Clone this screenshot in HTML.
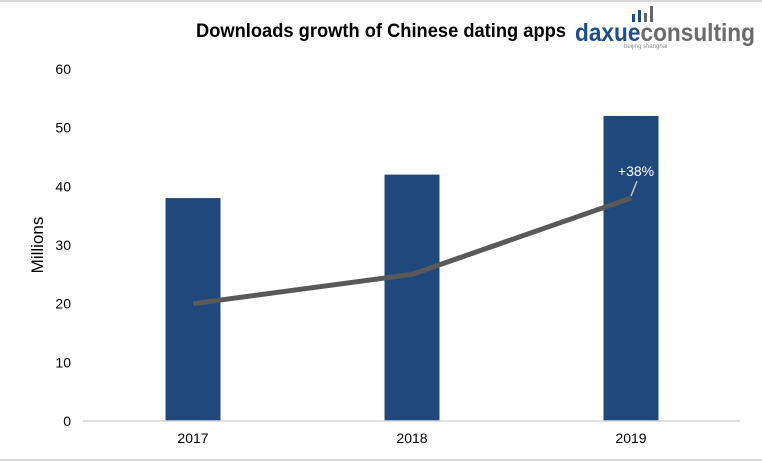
<!DOCTYPE html>
<html><head><meta charset="utf-8"><style>
body{margin:0;background:#fff;}
svg{display:block;font-family:"Liberation Sans",Arial,sans-serif;}
</style></head><body>
<svg width="762" height="462">
<line x1="0" y1="1" x2="762" y2="1" stroke="#d9d9d9" stroke-width="2"/>
<line x1="0" y1="460" x2="762" y2="460" stroke="#d9d9d9" stroke-width="2"/>
<text x="196" y="37" font-size="19" font-weight="bold" textLength="370" lengthAdjust="spacingAndGlyphs">Downloads growth of Chinese dating apps</text>
<g>
<rect x="632" y="14" width="3" height="8" fill="#1f4e8a"/><rect x="638" y="10" width="3" height="12" fill="#1f4e8a"/><rect x="644" y="13" width="3" height="9" fill="#666"/><rect x="650" y="6" width="3" height="16" fill="#666"/>
<text x="575" y="41" font-size="25" font-weight="bold" textLength="180" lengthAdjust="spacingAndGlyphs"><tspan fill="#1f4e8a">daxue</tspan><tspan fill="#6b6b6b">consulting</tspan></text>
<text x="624" y="48" font-size="6" fill="#888">beijing shanghai</text>
</g>
<text transform="translate(43,245) rotate(-90)" text-anchor="middle" font-size="17">Millions</text>
<g id="yticks"></g>
<g id="bars"></g>
<line x1="83" y1="421" x2="740" y2="421" stroke="#d9d9d9" stroke-width="1.5"/>
<g id="xticks"></g>
<g id="line"></g>
</svg>
<script>
const categories=["2017","2018","2019"];
const barValues=[38,42,52];
const lineValues=[20,25,38];
const yTicks=[0,10,20,30,40,50,60];
const annotation="+38%";
const ns="http://www.w3.org/2000/svg";
const y=v=>421-v*(352/60);
const x=i=>193+i*219;
function mk(tag,attrs,parent){const e=document.createElementNS(ns,tag);for(const k in attrs)e.setAttribute(k,attrs[k]);parent.appendChild(e);return e;}
const yt=document.getElementById('yticks');
yTicks.forEach(t=>{const e=mk('text',{x:71,y:y(t)+5,'text-anchor':'end','font-size':14},yt);e.textContent=t;

});
const bg=document.getElementById('bars');
barValues.forEach((v,i)=>{const r=mk('rect',{x:x(i)-27.5,y:y(v),width:55,height:421-y(v),fill:'#1f497d'},bg);

});
const xt=document.getElementById('xticks');
categories.forEach((c,i)=>{const e=mk('text',{x:x(i),y:443,'text-anchor':'middle','font-size':14},xt);e.textContent=c;

});
const lg=document.getElementById('line');
const p=mk('polyline',{points:lineValues.map((v,i)=>x(i)+','+y(v)).join(' '),fill:'none',stroke:'#595959','stroke-width':5,'stroke-linejoin':'round'},lg);


const li=lineValues.length-1;
const ld=mk('line',{x1:x(li),y1:y(lineValues[li])-2,x2:x(li)+6,y2:y(lineValues[li])-17,stroke:'#bfbfbf','stroke-width':1.5},lg);


const at=mk('text',{x:x(li)+5,y:y(lineValues[li])-22,'text-anchor':'middle','font-size':14,fill:'#fff'},lg);
at.textContent=annotation;


</script>
</body></html>
